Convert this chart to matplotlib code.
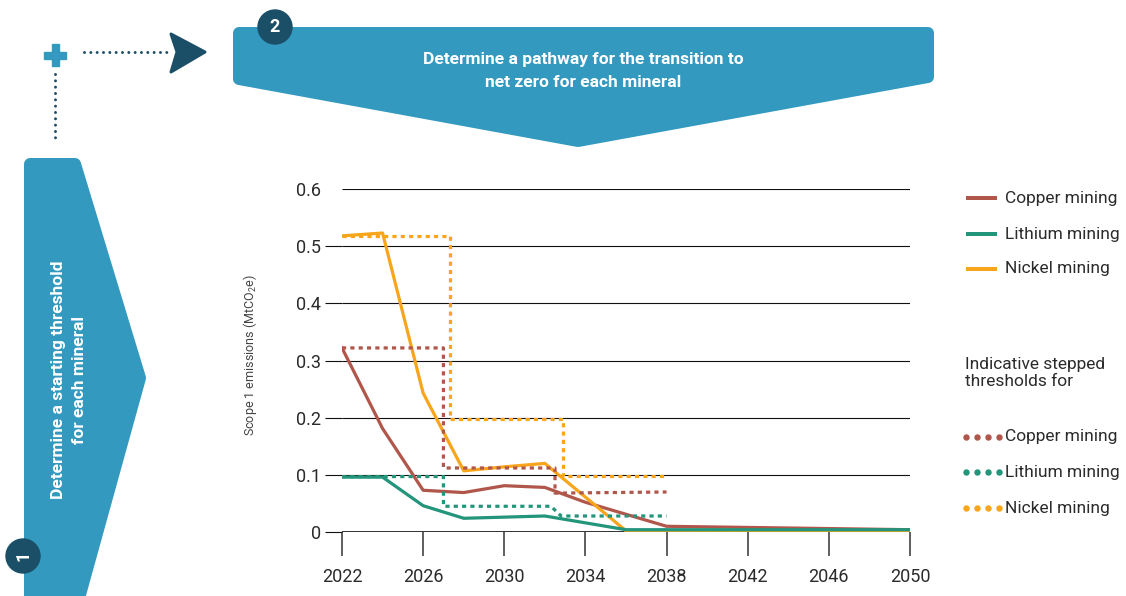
import matplotlib
matplotlib.use("Agg")
import matplotlib.pyplot as plt
from matplotlib.patches import Polygon, Circle

plt.rcParams["font.family"] = ["Roboto", "DejaVu Sans"]
plt.rcParams["mathtext.default"] = "regular"

W, H = 1126, 596

# pathway data (MtCO2e)
years = [2022, 2024, 2026, 2028, 2030, 2032, 2034, 2036, 2038, 2050]
copper = [0.322, 0.181, 0.073, 0.069, 0.081, 0.078, 0.052, 0.031, 0.010, 0.004]
lithium = [0.096, 0.096, 0.046, 0.024, 0.026, 0.028, 0.016, 0.004, 0.004, 0.004]
nickel = [0.518, 0.523, 0.243, 0.107, 0.114, 0.120, 0.061, 0.002, 0.002, 0.002]

# indicative stepped thresholds
copper_step_x = [2022, 2027, 2027, 2032.5, 2032.5, 2038]
copper_step_y = [0.322, 0.322, 0.112, 0.112, 0.068, 0.070]
lithium_step_x = [2022, 2027, 2027, 2032.3, 2032.8, 2038]
lithium_step_y = [0.097, 0.097, 0.045, 0.045, 0.028, 0.028]
nickel_step_x = [2022, 2027.3, 2027.3, 2032.9, 2032.9, 2038]
nickel_step_y = [0.518, 0.518, 0.198, 0.198, 0.098, 0.098]

series_names = ["Copper mining", "Lithium mining", "Nickel mining"]
x_ticks = [2022, 2026, 2030, 2034, 2038, 2042, 2046, 2050]
y_ticks = [0, 0.1, 0.2, 0.3, 0.4, 0.5, 0.6]
y_tick_labels = ["0", "0.1", "0.2", "0.3", "0.4", "0.5", "0.6"]

COPPER = "#b0564a"
LITHIUM = "#22957a"
NICKEL = "#f8a51c"
BLUE = "#3399bf"
NAVY = "#1b4f68"
TEXT = "#2b2b2b"
DOTTED = (0, (1.3, 1.3))


def px(v):
    """Pixels to points."""
    return v * 0.72


def draw_decorations(ov):
    """Banners, step badges and connectors drawn in pixel space."""
    rounded = dict(facecolor=BLUE, edgecolor=BLUE, linewidth=px(12), joinstyle="round")
    top = Polygon([(239, 33), (928, 33), (928, 77), (578, 141), (239, 79)], closed=True, **rounded)
    ov.add_patch(top)
    left = Polygon([(30, 164), (75, 164), (140, 378), (78, 602), (30, 602)], closed=True, **rounded)
    ov.add_patch(left)

    ov.text(583, 71, "Determine a pathway for the transition to\nnet zero for each mineral",
            ha="center", va="center", color="white", fontsize=12.5, fontweight="bold",
            linespacing=1.6)
    ov.text(69, 380, "Determine a starting threshold\nfor each mineral", ha="center", va="center",
            rotation=90, color="white", fontsize=12.5, fontweight="bold", linespacing=1.45)

    ov.add_patch(Circle((275, 27), 17, color=NAVY))
    ov.text(275, 27, "2", ha="center", va="center", color="white", fontsize=13, fontweight="bold")
    ov.add_patch(Circle((23, 556), 17, color=NAVY))
    ov.text(23, 556, "1", ha="center", va="center", color="white", fontsize=13,
            fontweight="bold", rotation=90)

    # plus sign
    ov.add_patch(Polygon([(51.5, 44), (58.5, 44), (58.5, 66), (51.5, 66)], color=BLUE))
    ov.add_patch(Polygon([(44, 51.5), (66, 51.5), (66, 58.5), (44, 58.5)], color=BLUE))

    dots = dict(color=NAVY, linewidth=px(3), linestyle=(0, (0.01, 2.1)), dash_capstyle="round")
    ov.plot([84, 168], [52, 52], **dots)
    ov.plot([55, 55], [74, 140], **dots)
    ov.add_patch(Polygon([(171, 34), (205, 52), (171, 72), (177, 52)], closed=True,
                         facecolor=NAVY, edgecolor=NAVY, linewidth=px(3), joinstyle="round"))


def draw_legend(ov):
    colors = [COPPER, LITHIUM, NICKEL]
    for name, color, y in zip(series_names, colors, [198, 234, 269]):
        ov.plot([966, 997], [y, y], color=color, linewidth=px(4), solid_capstyle="butt")
        ov.text(1005, y, name, ha="left", va="center", fontsize=12.5, color=TEXT)

    ov.text(965, 373, "Indicative stepped\nthresholds for", ha="left", va="center",
            fontsize=12.5, color=TEXT, linespacing=1.25)

    for name, color, y in zip(series_names, colors, [437, 472, 508]):
        ov.plot([966, 977, 988, 999], [y] * 4, linestyle="none", marker="o",
                markersize=3.6, color=color)
        ov.text(1005, y, name, ha="left", va="center", fontsize=12.5, color=TEXT)


def draw_chart(fig):
    x0, x1 = 342, 910
    y0, y1 = 532, 189
    ax = fig.add_axes([x0 / W, (H - y0) / H, (x1 - x0) / W, (y0 - y1) / H])
    ax.set_facecolor("none")
    ax.set_xlim(2022, 2050)
    ax.set_ylim(0, 0.6)
    for s in ax.spines.values():
        s.set_visible(False)

    ax.hlines(y_ticks[1:], 2022, 2050, color="#111111", linewidth=0.8, zorder=1)
    ax.hlines(0, 2022, 2050, color="#222222", linewidth=1.3, zorder=1)

    lw = px(3.2)
    ax.plot(years, copper, color=COPPER, linewidth=lw, zorder=3)
    ax.plot(years, nickel, color=NICKEL, linewidth=lw, zorder=3)
    ax.plot(years, lithium, color=LITHIUM, linewidth=lw, zorder=4)

    ax.plot(copper_step_x, copper_step_y, color=COPPER, linewidth=lw, linestyle=DOTTED, zorder=5)
    ax.plot(lithium_step_x, lithium_step_y, color=LITHIUM, linewidth=lw, linestyle=DOTTED, zorder=5)
    ax.plot(nickel_step_x, nickel_step_y, color=NICKEL, linewidth=lw, linestyle=DOTTED, zorder=5)

    ax.set_xticks(x_ticks)
    ax.set_xticklabels([str(t) for t in x_ticks], fontsize=13, color=TEXT)
    ax.tick_params(axis="x", direction="out", length=px(24), width=1.1, color="#333333", pad=px(12))
    ax.set_yticks(y_ticks)
    ax.set_yticklabels(y_tick_labels, fontsize=13, color=TEXT)
    ax.tick_params(axis="y", direction="out", length=px(17), width=0.8, color="#111111", pad=px(4))
    ax.yaxis.get_major_ticks()[-1].tick1line.set_visible(False)

    fig.text(250 / W, 1 - 355 / H, "Scope 1 emissions (MtCO$_2$e)", rotation=90,
             ha="center", va="center", fontsize=9, color="#444444")
    return ax


def main():
    fig = plt.figure(figsize=(W / 100, H / 100), dpi=100)
    ov = fig.add_axes([0, 0, 1, 1])
    ov.set_xlim(0, W)
    ov.set_ylim(H, 0)
    ov.axis("off")
    draw_decorations(ov)
    draw_legend(ov)
    draw_chart(fig)
    fig.savefig("out.png", dpi=100)


if __name__ == "__main__":
    main()
